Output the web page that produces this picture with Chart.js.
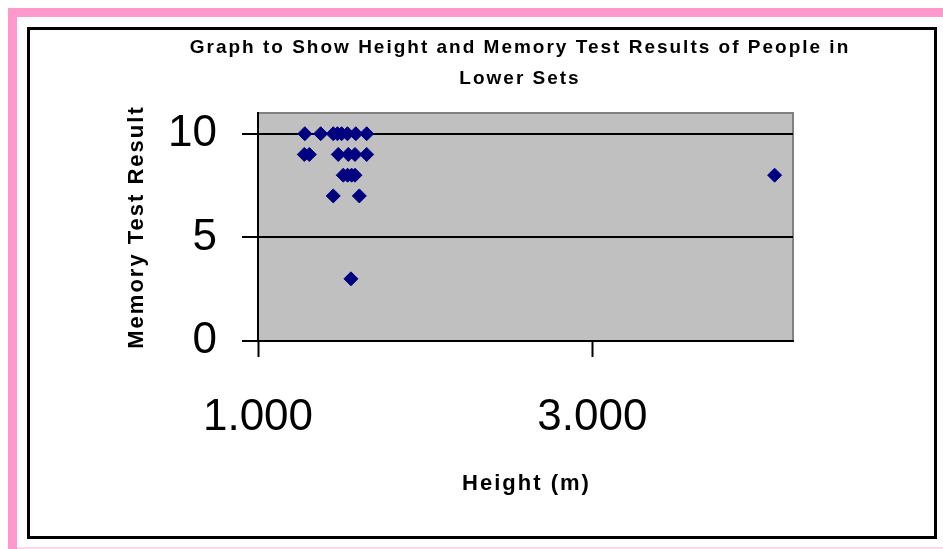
<!DOCTYPE html>
<html>
<head>
<meta charset="utf-8">
<script src="https://cdn.jsdelivr.net/npm/chart.js@4"></script>
<style>
  body { margin: 0; width: 943px; height: 549px; background: #fff; position: relative; overflow: hidden; }
  .pink { position: absolute; background: #ff99cc; }
  #pinkTop { left: 8px; top: 8px; width: 935px; height: 9px; }
  #pinkLeft { left: 8px; top: 8px; width: 9px; height: 541px; }
  #pinkBottom { left: 17px; top: 547px; width: 926px; height: 2px; background: #ffd6ea; }
  #box { position: absolute; left: 27px; top: 27px; width: 910px; height: 512px; border: 3px solid #000; box-sizing: border-box; }
  #chart { position: absolute; left: 0; top: 0; }
</style>
</head>
<body>
<div class="pink" id="pinkTop"></div>
<div class="pink" id="pinkLeft"></div>
<div class="pink" id="pinkBottom"></div>
<div id="box"></div>
<canvas id="chart" width="943" height="549"></canvas>
<script>
// data
const heights = [1.28, 1.375, 1.45, 1.475, 1.50, 1.535, 1.585, 1.65,
                 1.277, 1.307, 1.48, 1.54, 1.58, 1.65,
                 1.51, 1.536, 1.56, 1.58,
                 1.45, 1.606,
                 1.556,
                 4.09];
const scores = [10, 10, 10, 10, 10, 10, 10, 10,
                9, 9, 9, 9, 9, 9,
                8, 8, 8, 8,
                7, 7,
                3,
                8];
const xTicks = [1, 3];
const yTicks = [0, 5, 10];
const titleLines = ["Graph to Show Height and Memory Test Results of People in", "Lower Sets"];
const xTitle = "Height (m)";
const yTitle = "Memory Test Result";

const points = heights.map((h, i) => ({ x: h, y: scores[i] }));

// grey plot area with its border
const plotBackground = {
  id: "plotBackground",
  beforeDraw(chart) {
    const { ctx, chartArea: a } = chart;
    ctx.save();
    ctx.fillStyle = "#c0c0c0";
    ctx.fillRect(a.left, a.top, a.right - a.left, a.bottom - a.top);
    ctx.strokeStyle = "#808080";
    ctx.lineWidth = 2;
    ctx.strokeRect(a.left, a.top, a.right - a.left, a.bottom - a.top);
    ctx.restore();
  }
};

// titles are spaced out like the original, so draw them here
const spacedTitles = {
  id: "spacedTitles",
  afterDraw(chart) {
    const { ctx, chartArea: a } = chart;
    ctx.save();
    ctx.fillStyle = "#000";
    ctx.textAlign = "center";
    ctx.textBaseline = "middle";
    ctx.letterSpacing = "2px";
    ctx.font = "bold 19px Arial, 'Liberation Sans', sans-serif";
    ctx.fillText(titleLines[0], 520, 48);
    ctx.fillText(titleLines[1], 520, 79);
    ctx.font = "bold 22px Arial, 'Liberation Sans', sans-serif";
    ctx.fillText(xTitle, (a.left + a.right) / 2 + 1, 484);
    ctx.translate(137, (a.top + a.bottom) / 2);
    ctx.rotate(-Math.PI / 2);
    ctx.fillText(yTitle, 0, 0);
    ctx.restore();
  }
};

const tickFont = { family: "Arial, 'Liberation Sans', sans-serif", size: 44 };

new Chart(document.getElementById("chart"), {
  type: "scatter",
  data: {
    datasets: [{
      data: points,
      pointStyle: "rectRot",
      radius: 7,
      hoverRadius: 7,
      backgroundColor: "#000080",
      borderColor: "#000080",
      borderWidth: 1
    }]
  },
  options: {
    responsive: false,
    animation: false,
    devicePixelRatio: 1,
    layout: { padding: { top: 113, right: 150, bottom: 0, left: 0 } },
    plugins: { legend: { display: false }, tooltip: { enabled: false }, title: { display: false } },
    scales: {
      x: {
        type: "linear",
        min: 1,
        max: 4.2,
        afterFit(scale) { scale.height = 208; },
        afterBuildTicks(scale) { scale.ticks = xTicks.map(v => ({ value: v })); },
        ticks: { color: "#000", font: tickFont, padding: 34, maxRotation: 0, callback: v => v.toFixed(3) },
        grid: { drawOnChartArea: false, color: "#000", tickLength: 16, tickWidth: 2 },
        border: { color: "#000", width: 2 }
      },
      y: {
        min: 0,
        max: 11,
        afterFit(scale) { scale.width = 258; },
        afterBuildTicks(scale) { scale.ticks = yTicks.map(v => ({ value: v })); },
        ticks: { color: "#000", font: tickFont, padding: 25 },
        grid: { color: "#000", lineWidth: 2, tickLength: 16 },
        border: { color: "#000", width: 2 }
      }
    }
  },
  plugins: [plotBackground, spacedTitles]
});
</script>
</body>
</html>
